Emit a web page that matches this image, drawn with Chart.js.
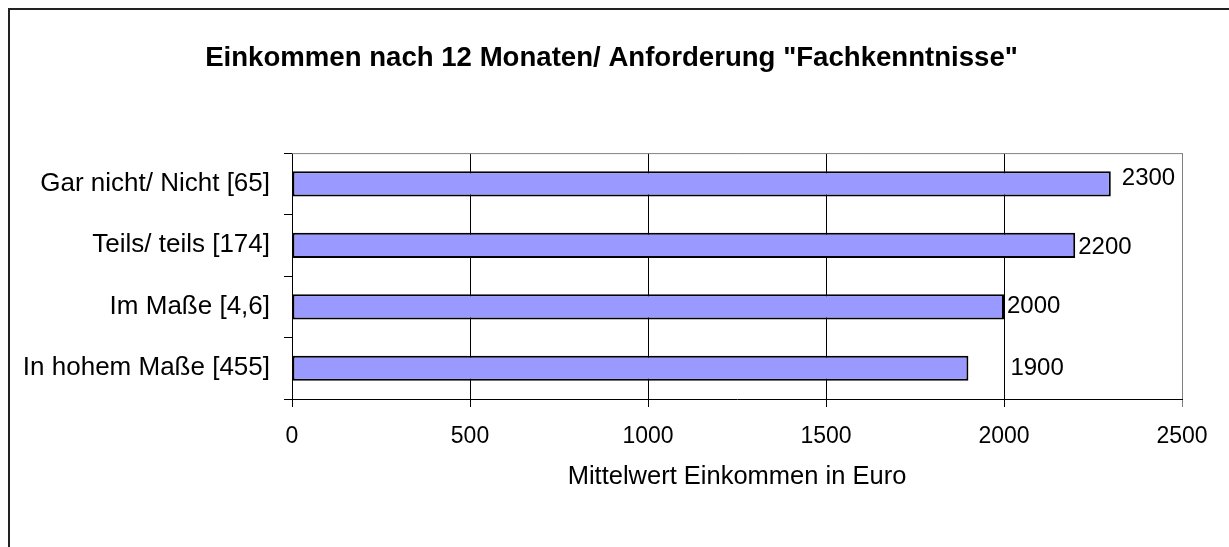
<!DOCTYPE html>
<html>
<head>
<meta charset="utf-8">
<script src="https://cdn.jsdelivr.net/npm/chart.js@4/dist/chart.umd.min.js"></script>
<style>
  html, body { margin: 0; padding: 0; background: #fff; overflow: hidden; }
  #wrap { position: relative; width: 1229px; height: 547px; }
  #frame { position: absolute; left: 8px; top: 8px; width: 3000px; height: 3000px;
           border-top: 2px solid #222; border-left: 2px solid #222; pointer-events: none; }
  canvas { position: absolute; left: 0; top: 0; }
</style>
</head>
<body>
<div id="wrap">
  <canvas id="c" width="1229" height="547"></canvas>
  <div id="frame"></div>
</div>
<script>
const titleText = 'Einkommen nach 12 Monaten/ Anforderung "Fachkenntnisse"';
const categories = ['Gar nicht/ Nicht [65]', 'Teils/ teils [174]', 'Im Maße [4,6]', 'In hohem Maße [455]'];
const values = [2300, 2200, 2000, 1900];
const xTicks = [0, 500, 1000, 1500, 2000, 2500];
const xTitle = 'Mittelwert Einkommen in Euro';
// label placement offsets (style only)
const labelDx = [11, 3, 3, 42];
const labelDy = [-5, 2, 0, 0];

const FONT = '"Liberation Sans", Arial, sans-serif';

const frameLines = {
  id: 'frameLines',
  afterDatasetsDraw(chart) {
    const {ctx, chartArea: a} = chart;
    ctx.save();
    ctx.strokeStyle = '#808080';
    ctx.lineWidth = 1;
    ctx.beginPath();
    ctx.moveTo(a.left, a.top + 0.5);
    ctx.lineTo(a.right + 0.5, a.top + 0.5);
    ctx.lineTo(a.right + 0.5, a.bottom);
    ctx.stroke();
    ctx.restore();
  }
};

const valueLabels = {
  id: 'valueLabels',
  afterDatasetsDraw(chart) {
    const {ctx} = chart;
    const meta = chart.getDatasetMeta(0);
    const xs = chart.scales.x;
    ctx.save();
    ctx.font = '24px ' + FONT;
    ctx.fillStyle = '#000';
    ctx.textAlign = 'left';
    ctx.textBaseline = 'middle';
    meta.data.forEach((bar, i) => {
      const v = chart.data.datasets[0].data[i];
      ctx.fillText(String(v), xs.getPixelForValue(v) + labelDx[i], bar.y + labelDy[i]);
    });
    ctx.restore();
  }
};

new Chart(document.getElementById('c'), {
  type: 'bar',
  data: {
    labels: categories,
    datasets: [{
      data: values,
      backgroundColor: '#9999FF',
      borderColor: '#000',
      borderWidth: 2,
      borderSkipped: false,
      barPercentage: 0.41,
      categoryPercentage: 1
    }]
  },
  options: {
    indexAxis: 'y',
    responsive: false,
    animation: false,
    events: [],
    layout: { padding: { left: 0, right: 6, top: 0, bottom: 0 } },
    plugins: {
      legend: { display: false },
      tooltip: { enabled: false },
      title: {
        display: true,
        text: titleText,
        color: '#000',
        font: { family: FONT, size: 27.6, weight: 'bold' },
        padding: { top: 41.5, bottom: 78.5 }
      }
    },
    scales: {
      x: {
        type: 'linear',
        min: 0, max: 2500,
        afterBuildTicks(scale) { scale.ticks = xTicks.map(v => ({ value: v })); },
        afterFit(scale) { scale.height = 148; },
        ticks: {
          color: '#000',
          font: { family: FONT, size: 23 },
          padding: 16,
          callback: (v) => String(v)
        },
        grid: {
          color: (c) => (c.tick && c.tick.value === 2500) ? '#808080' : '#000',
          lineWidth: 1,
          tickLength: 8,
          drawOnChartArea: true
        },
        border: { color: '#000', width: 1 },
        title: {
          display: true,
          text: xTitle,
          color: '#000',
          font: { family: FONT, size: 25.5 },
          padding: { top: 0, bottom: 54.7 }
        }
      },
      y: {
        afterFit(scale) { scale.width = 292; },
        ticks: {
          color: '#000',
          font: { family: FONT, size: 26 },
          padding: 14
        },
        grid: {
          drawOnChartArea: false,
          drawTicks: true,
          tickLength: 8,
          color: '#000',
          offset: true
        },
        border: { color: '#000', width: 1 }
      },
      spacer: {
        type: 'linear',
        position: 'right',
        axis: 'y',
        min: 0, max: 1,
        display: true,
        afterFit(scale) { scale.width = 41; },
        ticks: { display: false },
        grid: { display: false, drawTicks: false },
        border: { display: false }
      }
    }
  },
  plugins: [frameLines, valueLabels]
});
</script>
</body>
</html>
